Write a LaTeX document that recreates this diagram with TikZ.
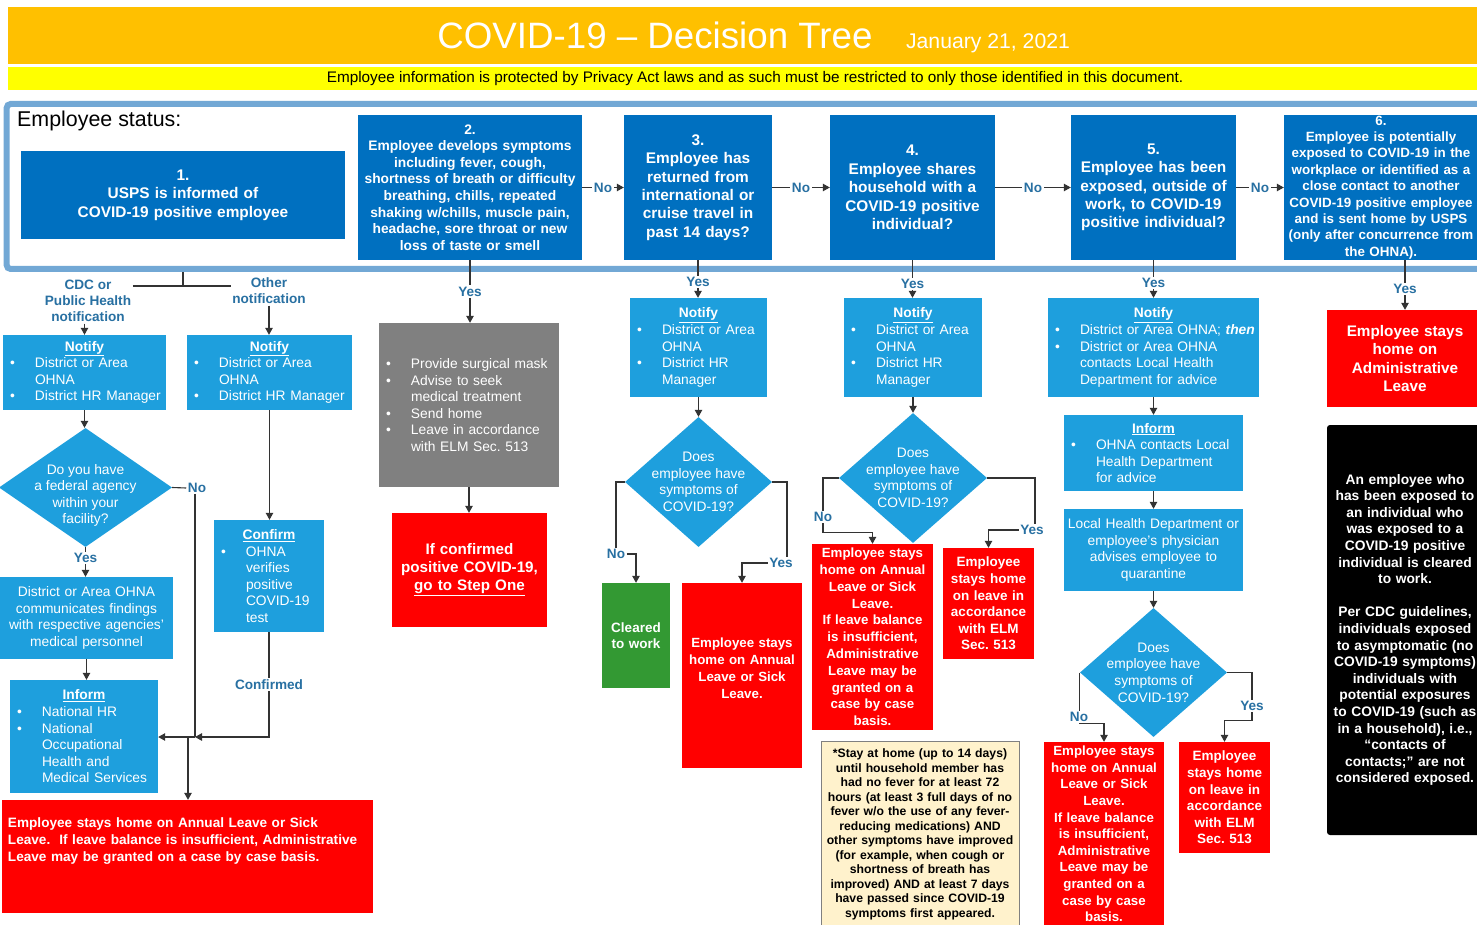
\documentclass[tikz,border=0pt]{standalone}
\usepackage{fontspec}
\setmainfont{Liberation Sans}
\usetikzlibrary{shapes.geometric,arrows.meta}

\definecolor{uspsdark}{RGB}{0,112,192}
\definecolor{uspslight}{RGB}{30,159,221}
\definecolor{framebl}{RGB}{114,168,213}
\definecolor{lblblue}{RGB}{40,112,162}
\definecolor{alertred}{RGB}{255,0,0}
\definecolor{cleargreen}{RGB}{51,153,51}
\definecolor{stepgray}{RGB}{128,128,128}
\definecolor{notebg}{RGB}{255,242,204}
\definecolor{bannerorange}{RGB}{255,192,0}
\definecolor{banneryellow}{RGB}{255,255,0}

\newcommand*\fsz[2]{\fontsize{#1}{#2}\selectfont}
\newcommand*\bl{\makebox[29pt][l]{\hspace{4pt}\textbullet}}
\newcommand*\ind{\hspace*{29pt}}
\newcommand*\headline[1]{{\centering\bfseries\underline{#1}\par}}
% box from its corners (x1,y1) (x2,y2), in pixels
\newcommand*\areabox[7][]{%
  \pgfmathsetmacro\bw{#5-#3}\pgfmathsetmacro\bh{#6-#4}\pgfmathsetmacro\tw{#5-#3-6}%
  \node [minimum width=\bw pt, minimum height=\bh pt, text width=\tw pt, #1]
    (#2) at ({(#3+#5)/2},{(#4+#6)/2}) {#7};}

\tikzset{
  topbox/.style={fill=uspsdark, text=white, align=center, inner xsep=3pt, inner ysep=0pt, font=\bfseries\fsz{15.4}{18.4}},
  infobox/.style={fill=uspslight, text=white, align=left, inner xsep=3pt, inner ysep=0pt, font=\fsz{13.8}{16.6}},
  alertbox/.style={fill=alertred, text=white, align=center, inner xsep=3pt, inner ysep=0pt, font=\bfseries\fsz{13.5}{16.6}},
  decision/.style={diamond, fill=uspslight, inner sep=0pt},
  qtext/.style={text=white, align=center, font=\fsz{13.8}{16.6}},
  lbl/.style={text=lblblue, font=\bfseries\fsz{13.6}{16}, inner sep=1.5pt},
  conn/.style={draw=black!80, line width=1.1pt},
  arr/.style={conn, -{Triangle[length=7pt,width=7.5pt]}},
}

\begin{document}
\begin{tikzpicture}[x=1pt,y=-1pt]
\useasboundingbox (0,0) rectangle (1477,925);
\clip (0,0) rectangle (1477,925);
\fill[white] (0,0) rectangle (1477,925);

% title bars
\areabox[fill=bannerorange]{banner}{8}{7}{1477}{64}{}
\node[anchor=base, text=white, font=\fsz{36.7}{40}] (title) at (655,49) {COVID-19 – Decision Tree};
\node[anchor=base, text=white, font=\fsz{21.2}{24}] (date) at (988,49) {January 21, 2021};
\areabox[fill=banneryellow]{privacy}{8}{67}{1477}{90}{}
\node[font=\fsz{15.3}{17}] (privacytext) at (755,78.5) {Employee information is protected by Privacy Act laws and as such must be restricted to only those identified in this document.};

% employee status
\areabox[draw=framebl, line width=6pt, fill=white, rounded corners=4pt]{status}{7}{104}{1495}{269}{}
\node[anchor=west, font=\fsz{21.4}{24}, inner sep=1pt] (statuslbl) at (16,121) {Employee status:};
\areabox[topbox]{s1}{21}{151}{345}{239}{1.\\USPS is informed of\\COVID-19 positive employee}
\areabox[topbox, font=\bfseries\fsz{13.8}{16.6}]{s2}{358}{115}{582}{260}{2.\\Employee develops symptoms\\including fever, cough,\\shortness of breath or difficulty\\breathing, chills, repeated\\shaking w/chills, muscle pain,\\headache, sore throat or new\\loss of taste or smell}
\areabox[topbox]{s3}{624}{115}{772}{260}{3.\\Employee has\\returned from\\international or\\cruise travel in\\past 14 days?}
\areabox[topbox]{s4}{830}{115}{995}{260}{4.\\Employee shares\\household with a\\COVID-19 positive\\individual?}
\areabox[topbox]{s5}{1071}{115}{1236}{260}{5.\\Employee has been\\exposed, outside of\\work, to COVID-19\\positive individual?}
\areabox[topbox, font=\bfseries\fsz{13.4}{16.4}]{s6}{1284}{115}{1478}{260}{6.\\Employee is potentially\\exposed to COVID-19 in the\\workplace or identified as a\\close contact to another\\COVID-19 positive employee\\and is sent home by USPS\\(only after concurrence from\\the OHNA).}

\draw[arr] (s2) -- node[lbl, fill=white] {No} (s3);
\draw[arr] (s3) -- node[lbl, fill=white] {No} (s4);
\draw[arr] (s4) -- node[lbl, fill=white] {No} (s5);
\draw[arr] (s5) -- node[lbl, fill=white] {No} (s6);

% step 1
\coordinate (split) at (183,286);
\coordinate (mergeR) at (195,737);
\coordinate (mergeL) at (188,737);
\node[lbl, align=center] (cdc) at (88,301) {CDC or\\Public Health\\notification};
\node[lbl, align=center] (other) at (269,291) {Other\\notification};
\areabox[infobox]{notifyL}{3}{335}{166}{410}{\headline{Notify}\bl District or Area\\\ind OHNA\\\bl District HR Manager}
\areabox[infobox]{notifyR}{187}{335}{352}{410}{\headline{Notify}\bl District or Area\\\ind OHNA\\\bl District HR Manager}
\node[decision, minimum width=173pt, minimum height=119pt,
  label={[qtext, yshift=-8pt]center:{Do you have\\a federal agency\\within your\\facility?}}] (agency) at (85.5,487.5) {};
\node[lbl] (noA) at (197,488) {No};
\areabox[infobox, align=center]{findings}{0}{577}{173}{659}{District or Area OHNA\\communicates findings\\with respective agencies’\\medical personnel}
\areabox[infobox]{informL}{10}{680}{158}{793}{\headline{Inform}\bl National HR\\\bl National\\\ind Occupational\\\ind Health and\\\ind Medical Services}
\areabox[infobox]{confirm}{214}{520}{324}{632}{\headline{Confirm}\bl OHNA\\\ind verifies\\\ind positive\\\ind COVID-19\\\ind test}
\areabox[alertbox, align=left, font=\bfseries\fsz{13.6}{17}]{stayL}{2}{800}{373}{913}{\hspace*{3pt}Employee stays home on Annual Leave or Sick\\\hspace*{3pt}Leave.\ \ If leave balance is insufficient, Administrative\\\hspace*{3pt}Leave may be granted on a case by case basis.\\[16pt]\mbox{}}

\draw[conn] (split |- status.south) -- (split);
\draw[conn] (cdc.east |- split) -- (other.west |- split);
\draw[arr] (notifyL.north |- cdc.south) -- (notifyL.north);
\draw[arr] (other.south) -- (other.south |- notifyR.north);
\draw[arr] (notifyL.south) -- (notifyL.south |- agency.north);
\draw[conn] (agency.east) -- (noA.west);
\draw[conn] (mergeR |- noA.south) -- (mergeR);
\draw[arr] (agency.south) -- node[lbl, fill=white, pos=0.37] {Yes} (agency.south |- findings.north);
\draw[arr] (findings.south) -- (findings.south |- informL.north);
\draw[arr] (notifyR.south) -- (notifyR.south |- confirm.north);
\draw[arr] (confirm.south) -- node[lbl, fill=white] {Confirmed} (confirm.south |- mergeR) -- (mergeR);
\draw[arr] (mergeR) -- (informL.east |- mergeR);
\draw[arr] (mergeL) -- (mergeL |- stayL.north);

% step 2
\areabox[infobox, fill=stepgray]{advise}{379}{323}{559}{487}{\bl Provide surgical mask\\\bl Advise to seek\\\ind medical treatment\\\bl Send home\\\bl Leave in accordance\\\ind with ELM Sec.\ 513}
\areabox[alertbox, font=\bfseries\fsz{15.2}{18}]{stepone}{392}{513}{547}{627}{If confirmed\\positive COVID-19,\\\underline{go to Step One}}

\draw[arr] (s2.south) -- node[lbl, fill=white] {Yes} (s2.south |- advise.north);
\draw[arr] (advise.south) -- (advise.south |- stepone.north);

% step 3
\areabox[infobox]{notify3}{630}{298}{767}{397}{\headline{Notify}\bl District or Area\\\ind OHNA\\\bl District HR\\\ind Manager}
\node[decision, minimum width=147pt, minimum height=130pt,
  label={[qtext]center:{Does\\employee have\\symptoms of\\COVID-19?}}] (symp3) at (698.5,482) {};
\node[lbl] (no3) at (616,554) {No};
\node[lbl] (yes3) at (781,563) {Yes};
\areabox[alertbox, fill=cleargreen]{cleared}{602}{583}{670}{688}{Cleared\\to work}
\areabox[alertbox, font=\bfseries\fsz{13.3}{16.7}]{stay3}{682}{583}{802}{768}{Employee stays\\home on Annual\\Leave or Sick\\Leave.\\[-2pt]\mbox{}}

\draw[arr] (s3.south) -- node[lbl, fill=white, pos=0.58] {Yes} (s3.south |- notify3.north);
\draw[arr] (notify3.south) -- (notify3.south |- symp3.north);
\draw[conn] (symp3.west) -| (no3.north);
\draw[arr] (no3.east) -| (cleared.north);
\draw[conn] (symp3.east) -| ([xshift=6pt]yes3.north);
\draw[arr] (yes3.west) -| (stay3.north);

% step 4
\areabox[infobox]{notify4}{844}{298}{982}{397}{\headline{Notify}\bl District or Area\\\ind OHNA\\\bl District HR\\\ind Manager}
\node[decision, minimum width=148pt, minimum height=130pt,
  label={[qtext]center:{Does\\employee have\\symptoms of\\COVID-19?}}] (symp4) at (913,478) {};
\node[lbl] (no4) at (823,517) {No};
\node[lbl] (yes4) at (1032,530) {Yes};
\areabox[alertbox, font=\bfseries\fsz{13.3}{16.8}]{stay4L}{812}{544}{933}{730}{Employee stays\\home on Annual\\Leave or Sick\\Leave.\\If leave balance\\is insufficient,\\Administrative\\Leave may be\\granted on a\\case by case\\basis.}
\areabox[alertbox]{stay4R}{943}{548}{1034}{659}{Employee\\stays home\\on leave in\\accordance\\with ELM\\Sec.\ 513}
\areabox[fill=notebg, draw=black!50, line width=0.8pt, text=black, align=center, inner xsep=3pt, inner ysep=0pt, font=\bfseries\fsz{12.2}{14.5}]{note}{821}{741}{1019}{928}{*Stay at home (up to 14 days)\\until household member has\\had no fever for at least 72\\hours (at least 3 full days of no\\fever w/o the use of any fever-\\reducing medications) AND\\other symptoms have improved\\(for example, when cough or\\shortness of breath has\\improved) AND at least 7 days\\have passed since COVID-19\\symptoms first appeared.}

\draw[arr] (s4.south) -- node[lbl, fill=white, pos=0.63] {Yes} (s4.south |- notify4.north);
\draw[arr] (notify4.south) -- (notify4.south |- symp4.north);
\draw[conn] (symp4.west) -| (no4.north);
\draw[arr] (no4.south) -- ++(0,9) -| (stay4L.north);
\draw[conn] (symp4.east) -| ([xshift=3pt]yes4.north);
\draw[arr] (yes4.west) -| (stay4R.north);

% step 5
\areabox[infobox]{notify5}{1048}{298}{1259}{397}{\headline{Notify}\bl District or Area OHNA; \textbf{\textit{then}}\\\bl District or Area OHNA\\\ind contacts Local Health\\\ind Department for advice}
\areabox[infobox]{inform5}{1064}{415}{1243}{491}{\headline{Inform}\bl OHNA contacts Local\\\ind Health Department\\\ind for advice}
\areabox[infobox, align=center]{quarantine}{1064}{509}{1243}{591}{Local Health Department or\\employee’s physician\\advises employee to\\quarantine}
\node[decision, minimum width=147pt, minimum height=129pt,
  label={[qtext]center:{Does\\employee have\\symptoms of\\COVID-19?}}] (symp5) at (1153.5,672.5) {};
\node[lbl] (no5) at (1079,717) {No};
\node[lbl] (yes5) at (1252,706) {Yes};
\areabox[alertbox, font=\bfseries\fsz{13.3}{16.6}]{stay5L}{1044}{742}{1164}{926}{Employee stays\\home on Annual\\Leave or Sick\\Leave.\\If leave balance\\is insufficient,\\Administrative\\Leave may be\\granted on a\\case by case\\basis.}
\areabox[alertbox]{stay5R}{1179}{742}{1270}{853}{Employee\\stays home\\on leave in\\accordance\\with ELM\\Sec.\ 513}

\draw[arr] (s5.south) -- node[lbl, fill=white, pos=0.6] {Yes} (s5.south |- notify5.north);
\draw[arr] (notify5.south) -- (inform5.north);
\draw[arr] (inform5.south) -- (quarantine.north);
\draw[arr] (quarantine.south) -- (symp5.north);
\draw[conn] (symp5.west) -- (symp5.west |- no5.north);
\draw[arr] (no5.south) -| (stay5L.north);
\draw[conn] (symp5.east) -| (yes5.north);
\draw[arr] (yes5.south) -- ++(0,8) -| (stay5R.north);

% step 6
\areabox[alertbox, font=\bfseries\fsz{15.3}{18.4}]{admin6}{1327}{310}{1483}{407}{Employee stays\\home on\\Administrative\\Leave}
\areabox[fill=black, rounded corners=3pt, text=white, align=center, inner xsep=3pt, inner ysep=0pt, font=\bfseries\fsz{13.8}{16.6}]{contacts}{1327}{425}{1483}{835}{An employee who\\has been exposed to\\an individual who\\was exposed to a\\COVID-19 positive\\individual is cleared\\to work.\\[16.6pt]Per CDC guidelines,\\individuals exposed\\to asymptomatic (no\\COVID-19 symptoms)\\individuals with\\potential exposures\\to COVID-19 (such as\\in a household), i.e.,\\“contacts of\\contacts;” are not\\considered exposed.}

\draw[arr] (s6.south -| admin6.north) -- node[lbl, fill=white, pos=0.58] {Yes} (admin6.north);

\end{tikzpicture}
\end{document}
